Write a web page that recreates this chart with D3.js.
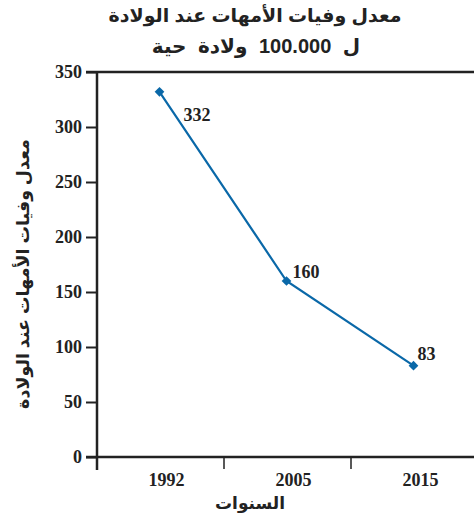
<!DOCTYPE html>
<html lang="ar">
<head>
<meta charset="utf-8">
<script src="https://cdn.jsdelivr.net/npm/d3@7/dist/d3.min.js"></script>
<style>
  html, body { margin: 0; padding: 0; background: #fff; }
  svg { display: block; }
  .num { font-family: "Liberation Serif", "DejaVu Serif", serif; font-weight: bold; fill: #222; }
  .ar { font-family: "Liberation Sans", "DejaVu Sans", sans-serif; font-weight: bold; fill: #222; }
</style>
</head>
<body>
<svg id="chart" width="474" height="517"></svg>
<script>
// Maternal mortality ratio per 100,000 live births
const years = ["1992", "2005", "2015"];
const ratios = [332, 160, 83];
const yTicks = [0, 50, 100, 150, 200, 250, 300, 350];
const titleLines = ["معدل وفيات الأمهات عند الولادة", "ل 100.000 ولادة حية"];
const yTitle = "معدل وفيات الأمهات عند الولادة";
const xTitle = "السنوات";

const W = 474, H = 517;
const plotLeft = 97, plotTop = 72, plotBottom = 457;
const ink = "#222";
const lineColor = "#0a68a8";

const svg = d3.select("#chart");

const x = d3.scaleBand().domain(years).range([plotLeft, plotLeft + 3 * 127]).padding(0);
const y = d3.scaleLinear().domain([0, 350]).range([plotBottom, plotTop]);

// Title
svg.append("text").attr("class", "ar")
  .attr("x", 255).attr("y", 22)
  .attr("text-anchor", "middle").attr("font-size", 19)
  .attr("direction", "rtl")
  .text(titleLines[0]);
svg.append("text").attr("class", "ar")
  .attr("x", 256).attr("y", 53)
  .attr("text-anchor", "middle").attr("font-size", 20)
  .attr("word-spacing", 6)
  .attr("direction", "rtl")
  .text(titleLines[1]);

// Y axis with outward ticks
const yAxis = d3.axisLeft(y).tickValues(yTicks).tickSize(11).tickPadding(4);
const gy = svg.append("g").attr("transform", `translate(${plotLeft},0)`).call(yAxis);
gy.select(".domain").remove();
gy.selectAll(".tick line").attr("stroke", ink).attr("stroke-width", 2);
gy.selectAll(".tick text").attr("class", "num").attr("font-size", 18).attr("dy", "0.33em");

// Vertical axis line (runs past the baseline like a tick)
svg.append("line")
  .attr("x1", plotLeft).attr("x2", plotLeft)
  .attr("y1", y(350)).attr("y2", plotBottom + 13)
  .attr("stroke", ink).attr("stroke-width", 2.5);

// Top frame line and baseline across the plot
[350, 0].forEach(v => {
  svg.append("line")
    .attr("x1", plotLeft - 11).attr("x2", W)
    .attr("y1", y(v)).attr("y2", y(v))
    .attr("stroke", ink).attr("stroke-width", 2.5);
});

// X axis: ticks at band boundaries, labels centred in bands
const bounds = years.slice(1).map(d => x(d));
svg.selectAll(".xtick").data(bounds).join("line")
  .attr("x1", d => d).attr("x2", d => d)
  .attr("y1", plotBottom).attr("y2", plotBottom + 12)
  .attr("stroke", ink).attr("stroke-width", 1.5);

svg.selectAll(".xlabel").data(years).join("text")
  .attr("class", "num")
  .attr("x", d => x(d) + x.bandwidth() / 2 + 6)
  .attr("y", 486)
  .attr("text-anchor", "middle").attr("font-size", 18)
  .text(d => d);

// Axis titles
svg.append("text").attr("class", "ar")
  .attr("x", 250).attr("y", 509)
  .attr("text-anchor", "middle").attr("font-size", 17)
  .attr("direction", "rtl")
  .text(xTitle);
svg.append("text").attr("class", "ar")
  .attr("transform", `translate(29,${274}) rotate(-90)`)
  .attr("text-anchor", "middle").attr("font-size", 17.5)
  .attr("direction", "rtl")
  .text(yTitle);

// Series line
const pts = years.map((d, i) => ({ year: d, value: ratios[i] }));
const px = d => x(d.year) + x.bandwidth() / 2 - 1;
svg.append("path").datum(pts)
  .attr("fill", "none").attr("stroke", lineColor).attr("stroke-width", 2.2)
  .attr("d", d3.line().x(px).y(d => y(d.value)));

// Diamond markers
svg.selectAll(".marker").data(pts).join("path")
  .attr("d", d3.symbol(d3.symbolDiamond2, 60))
  .attr("transform", d => `translate(${px(d)},${y(d.value)})`)
  .attr("fill", lineColor);

// Value labels
const labelOffsets = [[24, 29], [6, -3], [4, -6]];
svg.selectAll(".vlabel").data(pts).join("text")
  .attr("class", "num").attr("font-size", 18)
  .attr("x", (d, i) => px(d) + labelOffsets[i][0])
  .attr("y", (d, i) => y(d.value) + labelOffsets[i][1])
  .text(d => d.value);
</script>
</body>
</html>
